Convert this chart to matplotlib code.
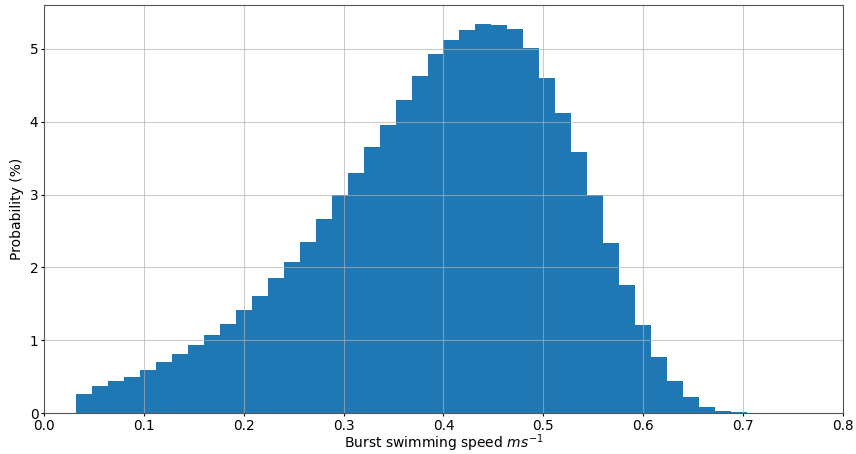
import numpy as np
import matplotlib
matplotlib.use("Agg")
import matplotlib.pyplot as plt

# Bin edges (m/s) and per-bin probability (%)
bin_start = 0.032
bin_width = 0.016
probability = [0.264, 0.370, 0.442, 0.497, 0.589, 0.703, 0.812, 0.932, 1.068, 1.227,
               1.415, 1.611, 1.858, 2.082, 2.351, 2.662, 2.990, 3.292, 3.652, 3.959,
               4.292, 4.621, 4.926, 5.114, 5.250, 5.333, 5.329, 5.269, 5.008, 4.603,
               4.123, 3.584, 2.990, 2.342, 1.753, 1.214, 0.767, 0.442, 0.223, 0.091,
               0.032, 0.014]
x_ticks = [0.0, 0.1, 0.2, 0.3, 0.4, 0.5, 0.6, 0.7, 0.8]
y_ticks = [0, 1, 2, 3, 4, 5]

edges = bin_start + bin_width * np.arange(len(probability) + 1)
centers = (edges[:-1] + edges[1:]) / 2

fig = plt.figure(figsize=(8.56, 4.54), dpi=100)
ax = fig.add_axes([0.0514, 0.0896, 0.9334, 0.8994])
ax.hist(centers, bins=edges, weights=probability, color="#1f77b4")
ax.set_xlim(0, 0.8)
ax.set_xticks(x_ticks)
ax.set_yticks(y_ticks)
ax.grid(True, color="#b0b0b0", alpha=0.65, linewidth=0.8)
ax.tick_params(labelsize=9.8, length=2, pad=2)
for s in ax.spines.values():
    s.set_color("#555555")
ax.set_xlabel("Burst swimming speed $ms^{-1}$", fontsize=10, labelpad=0)
ax.set_ylabel("Probability (%)", fontsize=10, labelpad=4)
fig.savefig("out.png", dpi=100)
